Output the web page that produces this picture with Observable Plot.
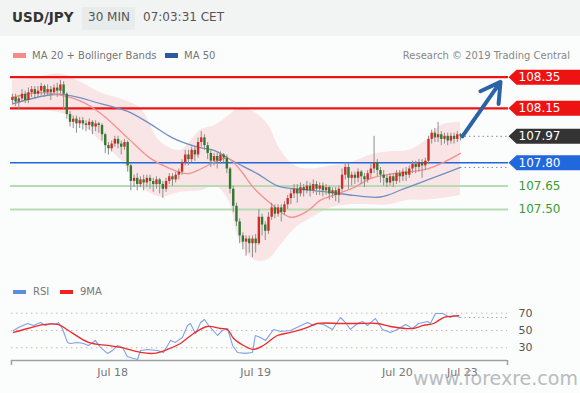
<!DOCTYPE html>
<html><head><meta charset="utf-8">
<script src="https://cdn.jsdelivr.net/npm/d3@7"></script>
<script src="https://cdn.jsdelivr.net/npm/@observablehq/plot@0.6"></script>
<style>
body{margin:0;background:#fbfcfc;font-family:"DejaVu Sans",sans-serif;}
#wrap{position:relative;width:580px;height:393px;overflow:hidden;background:#fbfcfc;}
#hdr{position:absolute;left:0;top:0;width:580px;height:36px;background:#f2f4f4;}
.t{position:absolute;white-space:nowrap;}
#pair{left:12px;top:9px;font-size:13.5px;font-weight:bold;color:#333;}
#tf{left:82px;top:7px;width:53px;height:23px;background:#e8ecec;}
#tft{left:88px;top:10px;font-size:12px;color:#555;}
#time{left:143px;top:10px;font-size:12px;color:#555;}
.lg{font-size:10px;color:#777;}
.sw{position:absolute;height:5px;width:13px;}
#main{position:absolute;left:0;top:60px;}
#rsi{position:absolute;left:0;top:280px;}
#wm{position:absolute;left:413px;top:367px;font-size:19px;color:#a9acaf;opacity:0.8;}
</style></head><body>
<div id="wrap">
 <div id="hdr"></div>
 <div class="t" id="pair">USD/JPY</div>
 <div class="t" id="tf"></div>
 <div class="t" id="tft">30 MIN</div>
 <div class="t" id="time">07:03:31 CET</div>
 <div class="sw" style="left:13px;top:53px;background:#f58a8a"></div>
 <div class="t lg" style="left:32px;top:50px">MA 20 + Bollinger Bands</div>
 <div class="sw" style="left:165px;top:53px;background:#2d5a9e"></div>
 <div class="t lg" style="left:184px;top:50px">MA 50</div>
 <div class="t lg" style="right:10px;top:50px;color:#888">Research © 2019 Trading Central</div>
 <div id="main"></div>
 <div id="rsi"></div>
 <div class="sw" style="left:13px;top:290px;background:#5b8de0;height:4px"></div>
 <div class="t lg" style="left:33px;top:286px">RSI</div>
 <div class="sw" style="left:60px;top:290px;background:#ee2222;height:4px"></div>
 <div class="t lg" style="left:80px;top:286px">9MA</div>
 <div class="t" id="wm">www.forexre.com</div>
</div>
<script>
// ---- candle data (30 min) ----
const opens = [108.20,108.22,108.19,108.21,108.24,108.20,108.25,108.27,108.24,108.26,
108.29,108.25,108.27,108.25,108.28,108.26,108.30,108.24,108.11,108.06,
108.08,108.05,108.07,108.05,108.04,108.06,108.03,108.05,108.04,107.98,
107.91,107.89,107.92,107.95,107.92,107.90,107.93,107.78,107.68,107.70,
107.66,107.69,107.67,107.70,107.68,107.66,107.69,107.66,107.63,107.68,
107.71,107.69,107.72,107.74,107.80,107.85,107.82,107.88,107.85,107.93,
107.96,107.91,107.86,107.81,107.84,107.81,107.85,107.83,107.76,107.63,
107.52,107.42,107.33,107.29,107.31,107.28,107.31,107.28,107.45,107.40,
107.36,107.45,107.51,107.47,107.51,107.48,107.53,107.57,107.60,107.63,
107.60,107.64,107.62,107.65,107.62,107.66,107.63,107.65,107.62,107.64,
107.60,107.62,107.59,107.63,107.72,107.77,107.70,107.72,107.70,107.74,
107.71,107.69,107.73,107.76,107.80,107.75,107.72,107.70,107.67,107.71,
107.68,107.73,107.71,107.74,107.72,107.76,107.79,107.77,107.80,107.78,
107.81,107.95,107.99,107.96,107.98,107.95,107.97,107.94,107.97,107.95,107.98];
const highs = [108.24,108.24,108.23,108.27,108.26,108.28,108.29,108.29,108.29,108.31,
108.30,108.30,108.29,108.30,108.31,108.33,108.32,108.25,108.13,108.10,
108.10,108.09,108.09,108.07,108.08,108.07,108.07,108.06,108.05,107.99,
107.93,107.94,107.97,107.97,107.94,107.95,107.94,107.79,107.72,107.73,
107.71,107.72,107.72,107.72,107.70,107.71,107.70,107.68,107.70,107.73,
107.73,107.74,107.76,107.82,107.88,107.88,107.90,107.90,107.96,108.00,
107.98,107.93,107.88,107.86,107.86,107.87,107.86,107.85,107.77,107.65,
107.54,107.44,107.35,107.33,107.33,107.33,107.34,107.50,107.47,107.42,
107.48,107.54,107.53,107.53,107.53,107.55,107.59,107.63,107.66,107.66,
107.67,107.66,107.68,107.67,107.69,107.68,107.67,107.67,107.66,107.65,
107.64,107.64,107.65,107.76,107.80,107.79,107.74,107.74,107.76,107.75,
107.73,107.75,107.79,107.97,107.82,107.77,107.75,107.72,107.73,107.73,
107.75,107.75,107.76,107.77,107.78,107.81,107.81,107.82,107.82,107.83,
107.97,108.01,108.02,108.06,108.00,107.99,107.99,107.99,107.99,108.00,107.99];
const lows = [108.17,108.16,108.14,108.19,108.18,108.18,108.22,108.21,108.22,108.23,
108.22,108.23,108.20,108.24,108.22,108.24,108.14,108.08,108.03,108.02,
107.99,108.02,108.01,108.00,108.01,107.98,108.00,107.99,107.94,107.86,
107.85,107.87,107.90,107.89,107.85,107.88,107.74,107.62,107.64,107.62,
107.64,107.62,107.64,107.63,107.61,107.63,107.60,107.57,107.61,107.66,
107.65,107.67,107.69,107.72,107.78,107.78,107.80,107.81,107.83,107.90,
107.88,107.82,107.77,107.78,107.76,107.79,107.80,107.73,107.60,107.48,
107.39,107.28,107.24,107.20,107.22,107.19,107.22,107.27,107.33,107.30,
107.34,107.43,107.44,107.45,107.42,107.46,107.50,107.53,107.57,107.54,
107.58,107.58,107.60,107.58,107.60,107.59,107.59,107.58,107.59,107.56,
107.57,107.55,107.54,107.61,107.69,107.63,107.65,107.66,107.67,107.66,
107.64,107.67,107.70,107.73,107.71,107.67,107.65,107.64,107.65,107.64,
107.66,107.67,107.68,107.68,107.70,107.73,107.73,107.74,107.70,107.75,
107.79,107.92,107.93,107.93,107.91,107.92,107.91,107.92,107.92,107.93,107.94];
const closes = [108.22,108.19,108.21,108.24,108.20,108.25,108.27,108.24,108.26,108.29,
108.25,108.27,108.25,108.28,108.26,108.30,108.24,108.11,108.06,108.08,
108.05,108.07,108.05,108.04,108.06,108.03,108.05,108.04,107.98,107.91,
107.89,107.92,107.95,107.92,107.90,107.93,107.78,107.68,107.70,107.66,
107.69,107.67,107.70,107.68,107.66,107.69,107.66,107.63,107.68,107.71,
107.69,107.72,107.74,107.80,107.85,107.82,107.88,107.85,107.93,107.96,
107.91,107.86,107.81,107.84,107.81,107.85,107.83,107.76,107.63,107.52,
107.42,107.33,107.29,107.31,107.28,107.31,107.28,107.45,107.40,107.36,
107.45,107.51,107.47,107.51,107.48,107.53,107.57,107.60,107.63,107.60,
107.64,107.62,107.65,107.62,107.66,107.63,107.65,107.62,107.64,107.60,
107.62,107.59,107.63,107.72,107.77,107.70,107.72,107.70,107.74,107.71,
107.69,107.73,107.76,107.80,107.75,107.72,107.70,107.67,107.71,107.68,
107.73,107.71,107.74,107.72,107.76,107.79,107.77,107.80,107.78,107.81,
107.95,107.99,107.96,107.98,107.95,107.97,107.94,107.97,107.95,107.98,107.97];

// ---- indicators: [candle index, value] ----
const ma20 = [[0,108.22],[8,108.25],[16,108.23],[22,108.19],[28,108.11],[36,107.96],[43,107.83],[48.4,107.77],
[54.7,107.73],[58.8,107.76],[62.8,107.80],[67.2,107.83],[71.3,107.75],[75.3,107.64],[80.6,107.54],[86.9,107.45],
[92.2,107.49],[96.3,107.56],[101.6,107.60],[106.6,107.64],[112,107.70],[119,107.73],[129.7,107.76],[140,107.86]];
const ma50 = [[0.3,108.18],[15,108.24],[27.5,108.18],[36,108.13],[43,108.05],[50,107.96],[58,107.90],[63,107.88],
[69,107.81],[76.5,107.73],[83,107.65],[90,107.63],[99.4,107.61],[106.6,107.59],[115,107.58],[122,107.63],
[129.7,107.69],[140,107.77]];
const bandIdx = [0,5.6,15,21,27.5,33.8,40,46,52.5,58.8,63.4,67.5,71,76,80,83.8,88.4,93,99.4,105.6,112,118,124,129,134,140];
const bandUpper = [108.33,108.34,108.37,108.32,108.25,108.21,108.15,107.94,107.88,108.01,108.04,108.10,108.15,108.12,
108.04,107.88,107.78,107.76,107.78,107.80,107.85,107.87,107.88,107.94,108.04,108.06];
const bandLower = [108.14,108.14,108.12,108.06,107.94,107.82,107.65,107.58,107.61,107.62,107.65,107.56,107.30,107.17,
107.18,107.27,107.38,107.44,107.51,107.53,107.53,107.53,107.56,107.56,107.57,107.59];
const rsi = [[0.3,50],[1.9,53.5],[4.7,58.1],[6.6,55.8],[8.8,59.2],[10.3,55.8],[11.9,58.1],[13.4,56.9],[14.4,59.2],
[15.6,52.3],[17.2,36.2],[18.1,35.0],[20.3,36.2],[22.2,35.0],[23.8,32.7],[25.9,38.5],[27.5,30.4],[29.7,23.5],
[31.3,26.9],[32.8,32.7],[34.4,30.4],[35.9,20.0],[37.8,17.7],[39.1,16.5],[40,26.9],[42.2,28.1],[45.3,26.9],
[47.2,24.6],[49.4,38.5],[50.9,36.2],[53.1,41.9],[54.7,55.8],[55.6,58.1],[57.2,46.5],[58.8,59.2],[60,62.7],
[61.3,55.8],[64.1,44.2],[65.6,50],[67.2,52.3],[68.8,32.7],[70.3,24.6],[72.8,23.5],[75,24.6],[75.9,44.2],
[77.5,41.9],[79.1,38.5],[81.6,51.2],[83.8,48.8],[86.9,50],[92.2,59.2],[94.1,55.8],[95.3,58.1],[97.2,56.9],
[100,51.2],[102.5,65],[104.1,59.2],[105.6,51.2],[107.8,58.1],[109.4,60.4],[110.9,55.8],[113.4,63.8],[115.6,51.2],
[118.1,47.7],[120.3,51.2],[122.8,56.9],[125,52.3],[126.9,58.1],[129.7,60.4],[130.6,58.1],[132.2,69.6],
[134.4,69.6],[136.9,65],[137.8,67.3],[140,65]];
const rsiMA = [[0.3,47.7],[4.7,52.3],[9.7,56.9],[14.4,56.9],[17.5,50],[23.8,36.2],[29.7,32.7],[33.8,30.4],[40,24.6],
[44.1,23.5],[48.4,28.1],[52.5,35],[56.6,46.5],[60.9,54.6],[65,52.3],[67.2,51.2],[69.1,40.8],[72.2,32.7],[75.3,28.1],
[78.4,32.7],[82.8,44.2],[86.9,47.7],[92.2,53.5],[95.3,58.1],[102.5,58.1],[107.8,58.1],[114,58.1],[118.1,54.6],
[122.8,52.3],[125.3,52.3],[128.4,55.8],[131.6,58.1],[134.7,65],[136.9,66.2],[139.4,67.3]];
const rsiLevels = [70, 50, 30];
const dayIdx = [31.3, 76, 120.3, 140.6];
const dayLabels = ["Jul 18", "Jul 19", "Jul 20", "Jul 23"];

// ---- key levels ----
const resist = [108.35, 108.15];
const pivot = 107.80;
const supports = [107.65, 107.50];
const lastPrice = 107.97;
const target = 108.32;

const RED = "#ee1313", BLUE = "#2167de", GREEN = "#b8dbb3", GTXT = "#3a9a35";
const XD = [-0.6, 155];
const last = closes.length - 1;

const candles = closes.map((c, i) => ({i, o: opens[i], h: highs[i], l: lows[i], c}));
const band = bandIdx.map((x, k) => ({x, lo: bandLower[k], hi: bandUpper[k]}));
const tags = [
  ...resist.map(v => ({v, bg: RED, fg: "white"})),
  {v: lastPrice, bg: "#333333", fg: "white"},
  {v: pivot, bg: BLUE, fg: "white"}
];
const greenTags = supports.map(v => ({v}));
const tagSymbol = {draw(ctx) {
  ctx.moveTo(0, 0); ctx.lineTo(8, -7.5); ctx.lineTo(72, -7.5); ctx.lineTo(72, 7.5); ctx.lineTo(8, 7.5); ctx.closePath();
}};

const main = Plot.plot({
  width: 580, height: 212, marginLeft: 10, marginRight: 72, marginTop: 0, marginBottom: 0,
  x: {domain: XD, axis: null},
  y: {domain: [107.095, 108.457], axis: null},
  color: {type: "identity"},
  style: {background: "transparent", overflow: "visible", fontFamily: "DejaVu Sans"},
  marks: [
    Plot.areaY(band, {x: "x", y1: "lo", y2: "hi", curve: "catmull-rom", fill: "#f6b3b3", fillOpacity: 0.32}),
    Plot.ruleY(supports, {x1: -0.6, x2: 155, stroke: GREEN, strokeWidth: 2}),
    Plot.ruleY(resist, {x1: -0.6, x2: 155, stroke: RED, strokeWidth: 2.2}),
    Plot.ruleY([pivot], {x1: -0.6, x2: 155, stroke: BLUE, strokeWidth: 1.5}),
    Plot.line(ma50, {x: d => d[0], y: d => d[1], curve: "catmull-rom", stroke: "#7090c4", strokeWidth: 1.3}),
    Plot.line(ma20, {x: d => d[0], y: d => d[1], curve: "catmull-rom", stroke: "#f39090", strokeWidth: 1.3}),
    Plot.ruleY([ma50[ma50.length - 1][1]], {x1: last, x2: 155, stroke: "#7b8fb8", strokeDasharray: "1.5,3"}),
    Plot.ruleY([lastPrice], {x1: last, x2: 155, stroke: "#888", strokeDasharray: "1.5,3"}),
    Plot.ruleX(candles, {x: "i", y1: "l", y2: "h", stroke: "#8e8e8e", strokeWidth: 1}),
    Plot.ruleX(candles, {x: "i", y1: "o", y2: "c", stroke: d => d.c >= d.o ? "#d42a25" : "#2f7a2f", strokeWidth: 2.4}),
    Plot.arrow([{x1: last + 0.6, y1: lastPrice, x2: 152.5, y2: target}],
      {x1: "x1", y1: "y1", x2: "x2", y2: "y2", stroke: "#2b64a6", strokeWidth: 4, headLength: 14}),
    Plot.dot(tags, {x: 155, y: "v", symbol: tagSymbol, r: 5, fill: "bg", stroke: null}),
    Plot.text(tags, {x: 155, y: "v", text: d => d.v.toFixed(2), dx: 10, textAnchor: "start", fill: "fg", fontSize: 12}),
    Plot.text(greenTags, {x: 155, y: "v", text: d => d.v.toFixed(2), dx: 10, textAnchor: "start", fill: GTXT, fontSize: 12})
  ]
});
document.getElementById("main").append(main);

const labelOf = new Map(dayIdx.map((d, k) => [d, dayLabels[k]]));
const rsiPlot = Plot.plot({
  width: 580, height: 113, marginLeft: 10, marginRight: 72, marginTop: 0, marginBottom: 33,
  x: {domain: XD},
  y: {domain: [15.3, 107.8], axis: null},
  style: {background: "transparent", overflow: "visible", fontFamily: "DejaVu Sans"},
  marks: [
    Plot.ruleY(rsiLevels, {x1: -0.3, x2: 154.7, stroke: "#d9b0b0", strokeDasharray: "1.5,3.5"}),
    Plot.text(rsiLevels, {x: 155, y: d => d, text: d => String(d), dx: 10, textAnchor: "start", fill: "#555", fontSize: 11}),
    Plot.line(rsi, {x: d => d[0], y: d => d[1], stroke: "#7ea2e6", strokeWidth: 1.1}),
    Plot.line(rsiMA, {x: d => d[0], y: d => d[1], curve: "catmull-rom", stroke: "#ef2a2a", strokeWidth: 1.3}),
    Plot.ruleY([rsi[rsi.length - 1][1]], {x1: last, x2: 155, stroke: "#9aa7c8", strokeDasharray: "1.5,3"}),
    Plot.ruleY([15.3], {x1: -0.3, x2: 154.7, stroke: "#a0a0a0", strokeWidth: 1.5}),
    Plot.ruleX([-0.3, 154.7], {y1: 15.3, y2: 9.5, stroke: "#a0a0a0", strokeWidth: 1.5}),
    Plot.axisX(dayIdx, {tickFormat: d => labelOf.get(d), tickSize: 0, tickPadding: 8, fontSize: 11, color: "#777", label: null})
  ]
});
document.getElementById("rsi").append(rsiPlot);
</script>
</body></html>
